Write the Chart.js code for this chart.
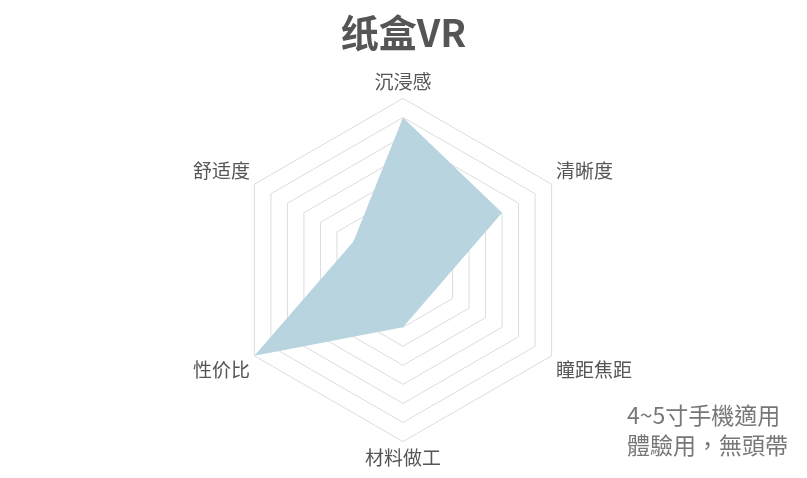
<!DOCTYPE html>
<html>
<head>
<meta charset="utf-8">
<script src="https://cdn.jsdelivr.net/npm/chart.js@4"></script>
<style>
  html, body { margin: 0; padding: 0; background: #fff; }
  #wrap { position: relative; width: 807px; height: 478px; }
  #note {
    position: absolute; left: 627px; top: 399px;
    font-family: "Noto Sans CJK TC", "Noto Sans", sans-serif;
    font-size: 23px; line-height: 30px; color: #777; white-space: nowrap;
  }
</style>
</head>
<body>
<div id="wrap">
  <canvas id="radar" width="807" height="478"></canvas>
  <div id="note">4~5寸手機適用<br>體驗用，無頭帶</div>
</div>
<script>
// Datos del gráfico
const titulo = "纸盒VR";
const categorias = ["沉浸感", "清晰度", "瞳距焦距", "材料做工", "性价比", "舒适度"];
const valores = [8, 6, 2, 3, 9, 3];
const escalaMax = 9;

// ----------- Radar -----------
function renderRadar() {
  const ctx = document.getElementById("radar");

  new Chart(ctx, {
    type: "radar",
    data: {
      labels: categorias,
      datasets: [{
        data: valores,
        backgroundColor: "#b7d4df",
        borderWidth: 0,
        pointRadius: 0,
        fill: true
      }]
    },
    options: {
      responsive: false,
      animation: false,
      layout: { padding: { bottom: 8 } },
      plugins: {
        legend: { display: false },
        tooltip: { enabled: false },
        title: {
          display: true,
          text: titulo,
          color: "#555",
          font: { family: "'Noto Sans CJK SC', sans-serif", size: 38, weight: "bold" },
          padding: { top: 10, bottom: 15 }
        }
      },
      scales: {
        r: {
          min: 0,
          max: escalaMax,
          ticks: { stepSize: 1, display: false },
          grid: { color: "#dcdcdc", lineWidth: 1 },
          angleLines: { display: false },
          pointLabels: {
            color: "#555",
            padding: 5,
            font: { family: "'Noto Sans CJK SC', sans-serif", size: 19 }
          }
        }
      }
    }
  });
}

document.addEventListener("DOMContentLoaded", renderRadar);
</script>
</body>
</html>
